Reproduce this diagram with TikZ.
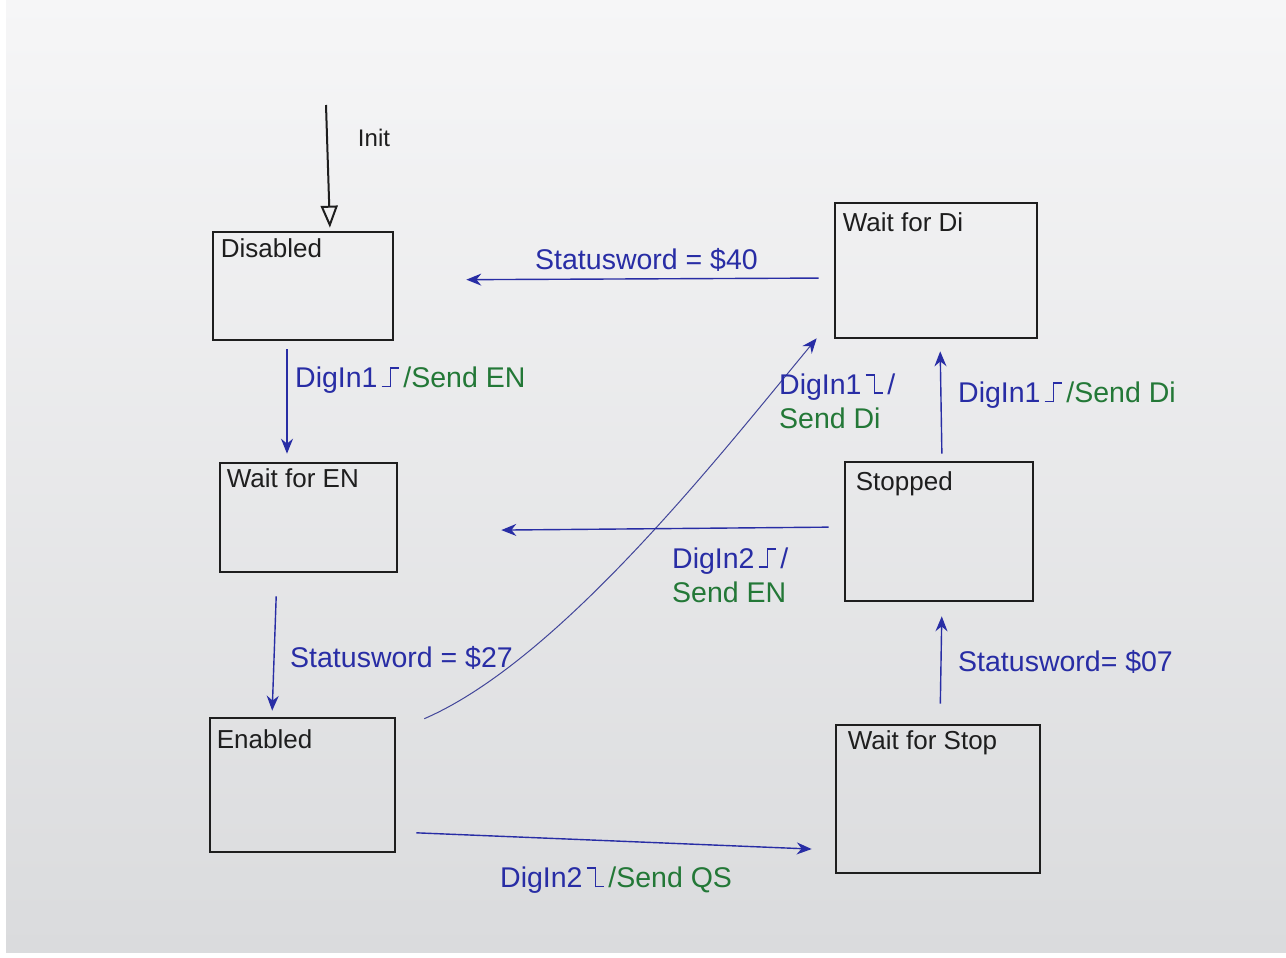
\documentclass[tikz,border=0pt]{standalone}
\usepackage{fontspec}
\setmainfont{Liberation Sans}
\usetikzlibrary{arrows.meta}
\definecolor{ink}{RGB}{40,45,165}
\definecolor{greenink}{RGB}{35,120,55}
\definecolor{pen}{RGB}{30,30,30}
% edge symbols drawn with rules in the current colour
\newcommand{\riseedge}{\kern4pt\rule{8pt}{1.8pt}\rule{1.8pt}{20pt}\rule[18.2pt]{8pt}{1.8pt}\kern4pt}
\newcommand{\falledge}{\kern4pt\rule[18.2pt]{8pt}{1.8pt}\rule{1.8pt}{20pt}\rule{8pt}{1.8pt}\kern4pt}
\begin{document}
\begin{tikzpicture}[x=1pt,y=-1pt,
  state/.style={draw=pen, line width=2.6pt, rectangle, inner sep=0pt},
  statename/.style={font=\fontsize{26}{28}\selectfont, text=pen, inner sep=0pt},
  tr/.style={draw=ink, line width=1.4pt, -{Stealth[length=15pt,width=12pt]}},
  lab/.style={font=\fontsize{28.5}{34}\selectfont, text=ink, anchor=west, inner sep=0pt, align=left},
]
\useasboundingbox (0,0) rectangle (1286,958);
\fill[white] (0,0) rectangle (1286,958);
\shade[top color={rgb,255:red,246;green,246;blue,247}, bottom color={rgb,255:red,218;green,219;blue,221}] (6,0) rectangle (1286,952);

% states
\node[state, minimum width=180pt, minimum height=108pt,
  label={[statename, anchor=north west, xshift=9pt, yshift=-8pt]north west:Disabled}] (dis) at (303,286) {};
\node[state, minimum width=177pt, minimum height=109pt,
  label={[statename, anchor=north west, xshift=8pt, yshift=-7pt]north west:Wait for EN}] (wen) at (308.5,517.5) {};
\node[state, minimum width=185pt, minimum height=134pt,
  label={[statename, anchor=north west, xshift=8pt, yshift=-13pt]north west:Enabled}] (ena) at (302.5,785) {};
\node[state, minimum width=202pt, minimum height=135pt,
  label={[statename, anchor=north west, xshift=9pt, yshift=-11pt]north west:Wait for Di}] (wdi) at (936,270.5) {};
\node[state, minimum width=188pt, minimum height=139pt,
  label={[statename, anchor=north west, xshift=12pt, yshift=-11pt]north west:Stopped}] (stp) at (939,531.5) {};
\node[state, minimum width=204pt, minimum height=148pt,
  label={[statename, anchor=north west, xshift=13pt, yshift=-7pt]north west:Wait for Stop}] (wst) at (938,799) {};

% initial transition
\coordinate (initc) at (326,105);
\draw[draw=pen, line width=2pt, -{Triangle[open,length=22pt,width=17pt,line width=2pt]}, shorten >=3pt]
  (initc) -- ([xshift=4pt]initc |- dis.north);
\node[font=\fontsize{24}{26}\selectfont, text=pen, inner sep=0pt] (initl) at (374,138) {Init};

% transitions
\draw[tr, shorten <=8pt, shorten >=8pt] ([xshift=-16pt]dis.south) -- ([xshift=-21.5pt]wen.north);
\draw[tr, shorten <=23pt, shorten >=6pt] ([xshift=-31.5pt]wen.south) -- ([xshift=-30.5pt]ena.north);
\draw[draw=ink!70!gray, line width=1pt, -{Stealth[length=15pt,width=12pt,color=ink]}]
  ([xshift=28pt,yshift=-2pt]ena.north east) .. controls (560,660) and (720,455) .. ([xshift=-17pt,yshift=1pt]wdi.south west);
\draw[tr, shorten <=20pt, shorten >=23pt] ([yshift=-47pt]ena.east) -- ([yshift=-51pt]wst.west);
\draw[tr, shorten <=20pt, shorten >=14pt] ([xshift=2pt]wst.north) -- ([xshift=3pt]stp.south);
\draw[tr, shorten <=7pt, shorten >=12pt] ([xshift=3pt]stp.north) -- ([xshift=4pt]wdi.south);
\draw[tr, shorten <=15pt, shorten >=103pt] ([yshift=4.5pt]stp.west) -- ([yshift=-13.5pt]wen.east);
\draw[tr, shorten <=15pt, shorten >=72pt] ([yshift=-7.5pt]wdi.west) -- ([yshift=6pt]dis.east);

% transition labels
\node[lab] (l1) at (295,380) {DigIn1\riseedge\textcolor{greenink}{/Send EN}};
\node[lab] (l2) at (290,658) {Statusword = \$27};
\node[lab] (l3) at (779,401) {DigIn1\falledge/\\\textcolor{greenink}{Send Di}};
\node[lab] (l4) at (958,395) {DigIn1\riseedge\textcolor{greenink}{/Send Di}};
\node[lab] (l5) at (672,575) {DigIn2\riseedge/\\\textcolor{greenink}{Send EN}};
\node[lab] (l6) at (958,662) {Statusword= \$07};
\node[lab] (l7) at (500,880) {DigIn2\falledge\textcolor{greenink}{/Send QS}};
\node[lab] (l8) at (535,260) {Statusword = \$40};
\end{tikzpicture}
\end{document}
